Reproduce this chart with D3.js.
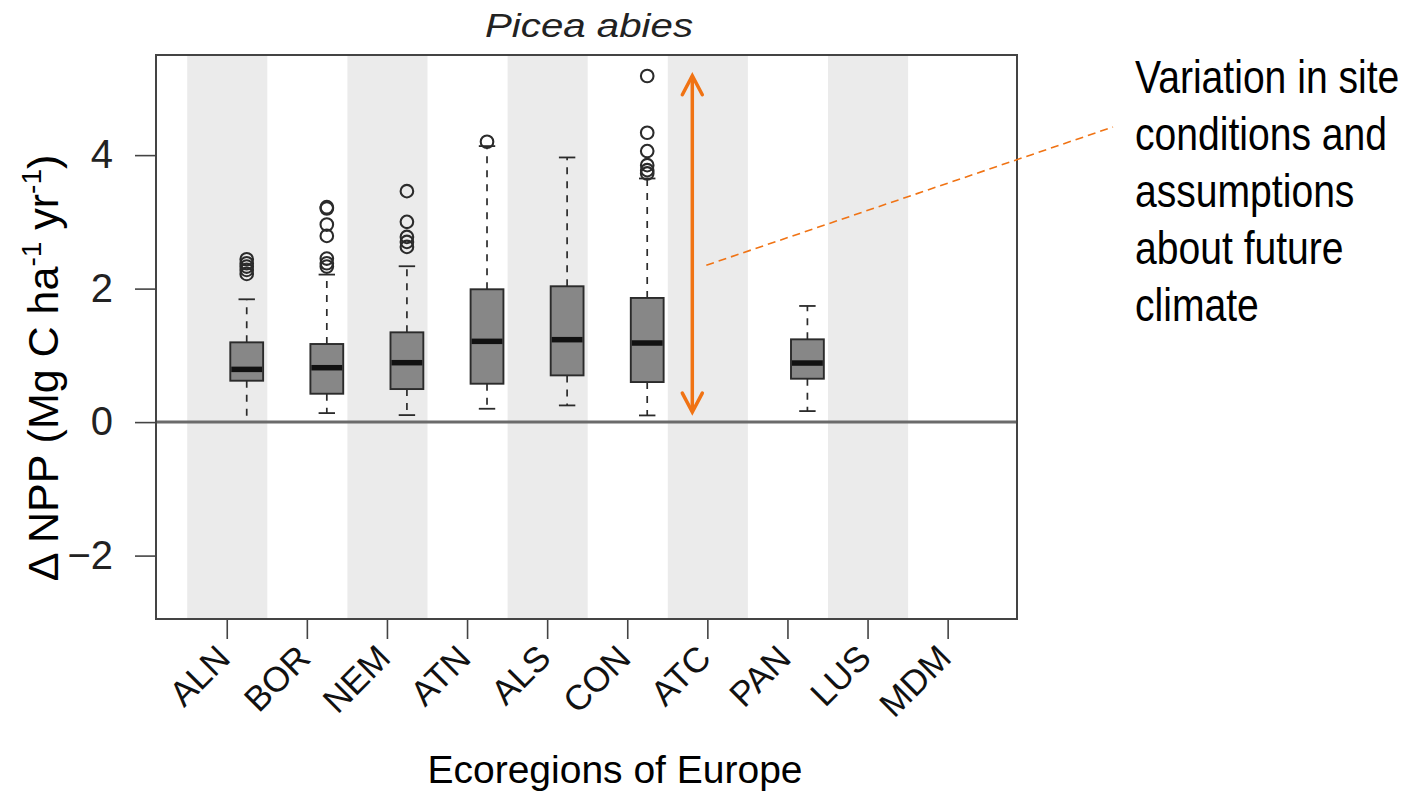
<!DOCTYPE html>
<html><head><meta charset="utf-8">
<script src="https://cdn.jsdelivr.net/npm/d3@7"></script>
<style>
  body { margin: 0; background: #fff; }
  svg { display: block; font-family: "Liberation Sans", Arial, sans-serif; }
</style>
</head><body>
<svg id="chart" width="1414" height="799"></svg>
<script>
// Ecoregions on the x axis
const ecoregions = ["ALN", "BOR", "NEM", "ATN", "ALS", "CON", "ATC", "PAN", "LUS", "MDM"];
// Box statistics of ΔNPP per ecoregion (null = no Picea abies data)
const whiskerLow  = [0.00, 0.135, 0.105, 0.20, 0.25, 0.10, null, 0.165, null, null];
const q1          = [0.62, 0.425, 0.495, 0.575, 0.70, 0.60, null, 0.65, null, null];
const median      = [0.79, 0.815, 0.89, 1.21, 1.235, 1.185, null, 0.885, null, null];
const q3          = [1.195, 1.17, 1.345, 1.99, 2.035, 1.86, null, 1.24, null, null];
const whiskerHigh = [1.84, 2.21, 2.335, 4.135, 3.965, 3.65, null, 1.74, null, null];
const outliers = [
  [2.22, 2.28, 2.33, 2.38, 2.44],
  [2.33, 2.38, 2.45, 2.79, 2.96, 3.20, 3.22],
  [2.625, 2.70, 2.775, 3.00, 3.46],
  [4.20],
  [],
  [3.725, 3.775, 3.85, 4.06, 4.335, 5.185],
  [], [], [], []
];
const yTicks = [-2, 0, 2, 4];
// Range highlighted by the double-headed arrow
const spanLow = 0.15, spanHigh = 5.19;
const leaderValue = 2.35;
const noteLines = ["Variation in site", "conditions and", "assumptions", "about future", "climate"];

const svg = d3.select("#chart");
const plot = { left: 156, right: 1017, top: 55, bottom: 619 };

const x = d3.scaleBand().domain(ecoregions).range([187.2, 988.2]).paddingInner(0).paddingOuter(0);
const bw = x.bandwidth();
const y = d3.scaleLinear().domain([-2.95, 5.5]).range([plot.bottom, plot.top]);

const orange = "#F07314";

// alternating shaded columns
svg.append("g").selectAll("rect")
  .data(ecoregions.filter((d, i) => i % 2 === 0))
  .join("rect")
  .attr("x", d => x(d)).attr("y", plot.top)
  .attr("width", bw).attr("height", plot.bottom - plot.top)
  .attr("fill", "#ebebeb");

// boxplots, dodged to the right inside each column
const rows = ecoregions.map((d, i) => ({
  key: d, lo: whiskerLow[i], q1: q1[i], med: median[i], q3: q3[i], hi: whiskerHigh[i], out: outliers[i]
})).filter(r => r.med !== null);

const boxW = bw * 0.41, capW = boxW * 0.5;
const cx = d => x(d) + bw * 0.743;

const boxes = svg.append("g").selectAll("g").data(rows).join("g");
boxes.append("line")
  .attr("x1", d => cx(d.key)).attr("x2", d => cx(d.key))
  .attr("y1", d => y(d.q3)).attr("y2", d => y(d.hi))
  .attr("stroke", "#2b2b2b").attr("stroke-width", 1.7).attr("stroke-dasharray", "7,7");
boxes.append("line")
  .attr("x1", d => cx(d.key)).attr("x2", d => cx(d.key))
  .attr("y1", d => y(d.q1)).attr("y2", d => y(d.lo))
  .attr("stroke", "#2b2b2b").attr("stroke-width", 1.7).attr("stroke-dasharray", "7,7");
boxes.selectAll("line.cap").data(d => [[d.key, d.hi], [d.key, d.lo]]).join("line")
  .attr("class", "cap")
  .attr("x1", d => cx(d[0]) - capW / 2).attr("x2", d => cx(d[0]) + capW / 2)
  .attr("y1", d => y(d[1])).attr("y2", d => y(d[1]))
  .attr("stroke", "#2b2b2b").attr("stroke-width", 1.8);
boxes.append("rect")
  .attr("x", d => cx(d.key) - boxW / 2).attr("width", boxW)
  .attr("y", d => y(d.q3)).attr("height", d => y(d.q1) - y(d.q3))
  .attr("fill", "#878787").attr("stroke", "#2b2b2b").attr("stroke-width", 1.9);
boxes.append("line")
  .attr("x1", d => cx(d.key) - boxW / 2 + 1).attr("x2", d => cx(d.key) + boxW / 2 - 1)
  .attr("y1", d => y(d.med)).attr("y2", d => y(d.med))
  .attr("stroke", "#111").attr("stroke-width", 5.5);
boxes.selectAll("circle").data(d => d.out.map(v => [d.key, v])).join("circle")
  .attr("cx", d => cx(d[0])).attr("cy", d => y(d[1])).attr("r", 6.3)
  .attr("fill", "none").attr("stroke", "#2b2b2b").attr("stroke-width", 2.1);

// zero reference line
svg.append("line")
  .attr("x1", plot.left).attr("x2", plot.right)
  .attr("y1", y(0)).attr("y2", y(0))
  .attr("stroke", "#6b6b6b").attr("stroke-width", 3);

// frame
svg.append("rect")
  .attr("x", plot.left).attr("y", plot.top)
  .attr("width", plot.right - plot.left).attr("height", plot.bottom - plot.top)
  .attr("fill", "none").attr("stroke", "#444").attr("stroke-width", 2);

// y axis
const yAxis = svg.append("g").attr("transform", `translate(${plot.left},0)`)
  .call(d3.axisLeft(y).tickValues(yTicks).tickSize(21).tickPadding(22).tickFormat(d3.format("d")));
yAxis.select(".domain").remove();
yAxis.selectAll(".tick line").attr("stroke", "#444").attr("stroke-width", 1.6);
yAxis.selectAll(".tick text").attr("font-size", 40).attr("fill", "#222")
  .attr("font-family", "Liberation Sans, Arial, sans-serif");

// x axis
const xAxis = svg.append("g").attr("transform", `translate(0,${plot.bottom})`)
  .call(d3.axisBottom(x).tickSize(20).tickFormat(""));
xAxis.select(".domain").remove();
xAxis.selectAll(".tick line").attr("stroke", "#444").attr("stroke-width", 1.6);
xAxis.selectAll(".tick").append("text")
  .attr("transform", "translate(5,41) rotate(-45)")
  .attr("text-anchor", "end")
  .attr("font-size", 35).attr("fill", "#111")
  .attr("font-family", "Liberation Sans, Arial, sans-serif")
  .text(d => d);

// title
svg.append("text")
  .attr("x", 589).attr("y", 37).attr("text-anchor", "middle")
  .attr("font-size", 34).attr("font-style", "italic").attr("fill", "#222")
  .attr("textLength", 208).attr("lengthAdjust", "spacingAndGlyphs")
  .text("Picea abies");

// axis titles
svg.append("text")
  .attr("x", 615).attr("y", 783).attr("text-anchor", "middle")
  .attr("font-size", 39).attr("fill", "#000")
  .text("Ecoregions of Europe");

const yl = svg.append("text")
  .attr("transform", "translate(58,368) rotate(-90)")
  .attr("text-anchor", "middle")
  .attr("font-size", 43).attr("fill", "#000");
yl.append("tspan").text("Δ NPP (Mg C ha");
yl.append("tspan").attr("font-size", 28).attr("dy", -17).text("-1");
yl.append("tspan").attr("dy", 17).text(" yr");
yl.append("tspan").attr("font-size", 28).attr("dy", -17).text("-1");
yl.append("tspan").attr("dy", 17).text(")");

// double-headed arrow spanning the simulated range
const ax = x("ATC") + bw * 0.306;
const yTop = y(spanHigh), yBot = y(spanLow);
const arrow = svg.append("g").attr("stroke", orange).attr("fill", "none")
  .attr("stroke-width", 3.5).attr("stroke-linecap", "round").attr("stroke-linejoin", "miter");
arrow.append("line").attr("x1", ax).attr("x2", ax).attr("y1", yTop + 1).attr("y2", yBot - 1);
arrow.append("path").attr("d", `M${ax - 10},${yTop + 19}L${ax},${yTop}L${ax + 10},${yTop + 19}`);
arrow.append("path").attr("d", `M${ax - 10},${yBot - 19}L${ax},${yBot}L${ax + 10},${yBot - 19}`);

// explanatory note with dashed leader
const noteX = 1135, noteY = 93, lineGap = 57;
svg.append("line")
  .attr("x1", ax + 14).attr("y1", y(leaderValue))
  .attr("x2", noteX - 22).attr("y2", noteY + 34)
  .attr("stroke", orange).attr("stroke-width", 1.6).attr("stroke-dasharray", "8,5");

svg.append("g").selectAll("text").data(noteLines).join("text")
  .attr("transform", (d, i) => `translate(${noteX},${noteY + i * lineGap}) scale(0.85,1)`)
  .attr("font-size", 46).attr("fill", "#000")
  .text(d => d);
</script>
</body></html>
